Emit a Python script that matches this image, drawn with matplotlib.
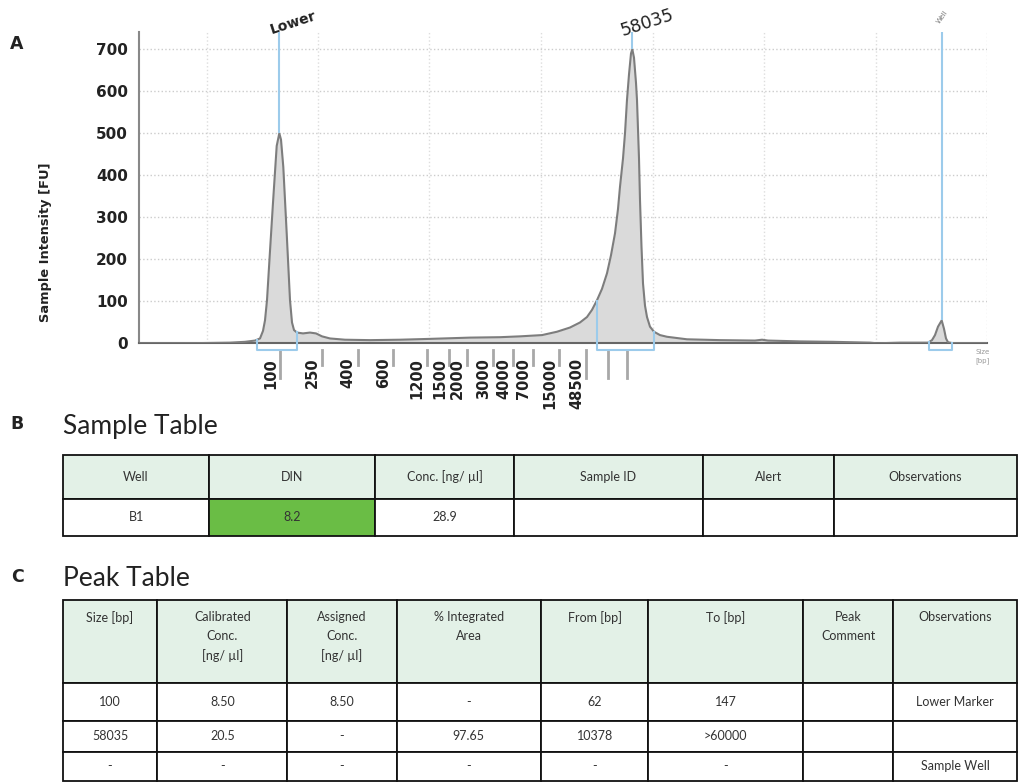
import numpy as np
import matplotlib.pyplot as plt

# electropherogram trace: migration position (px along run) and intensity [FU]
trace_pos = [139, 200, 230, 245, 255, 260, 263, 265, 267, 270, 273, 276.7, 279.3,
             281, 283.3, 286.7, 290, 292, 294, 297, 303, 310, 316, 322, 330, 345,
             370, 400, 430, 470, 500, 520, 542, 557, 570, 580, 587, 592, 597, 602,
             607, 611, 615, 618, 620, 623, 625, 627, 629, 631, 632.3, 634, 636, 637,
             639, 640, 641.5, 643, 645, 647, 650, 654, 660, 667, 687, 720, 755, 762,
             768, 800, 833, 870, 877, 900, 928, 932, 935, 938, 941.7, 944, 946, 948,
             952, 987]
trace_fu = [0.5, 1, 2, 4, 7, 12, 30, 55, 103, 220, 335, 470, 500,
            485, 420, 262, 103, 50, 32, 26, 24, 26, 24, 17, 12, 9,
            8, 9, 11, 14, 15, 17, 20, 28, 38, 50, 63, 80, 103, 130,
            167, 210, 262, 320, 373, 440, 500, 580, 640, 690, 700, 680, 620, 579,
            440, 341, 230, 143, 90, 63, 40, 28, 20, 16, 10, 8, 7, 9,
            7, 5, 4, 2, 0.5, 2, 2, 8, 20, 40, 55, 35, 12, 3,
            1, 1]

# ladder sizes and where they sit on the run
ladder_labels = ['100', '250', '400', '600', '1200', '1500', '2000', '3000',
                 '4000', '7000', '15000', '48500']
ladder_pos = [280, 321.7, 357.7, 392.7, 426.7, 449.3, 467.3, 493.3, 513.3,
              532.7, 559.3, 586]
ladder_long = [True, False, False, False, False, False, False, False, False,
               False, False, True]
extra_tick_pos = [607.7, 626.7]

# called peaks
peak_names = ['Lower', '58035', 'Well']
peak_pos = [279.3, 632.3, 941.7]
peak_fu = [500, 700, 55]
peak_from = [257.3, 596.7, 929.3]
peak_to = [296.7, 654.0, 951.7]

grid_x = [207, 318, 429, 541, 653, 764, 876, 987]
y_ticks = [0, 100, 200, 300, 400, 500, 600, 700]

# tables
sample_cols = ['Well', 'DIN', 'Conc. [ng/ µl]', 'Sample ID', 'Alert', 'Observations']
sample_row = ['B1', '8.2', '28.9', '', '', '']
sample_widths = [146.6, 165.7, 139, 189, 131, 183]

peak_cols = ['Size [bp]', 'Calibrated\nConc.\n[ng/ µl]', 'Assigned\nConc.\n[ng/ µl]',
             '% Integrated\nArea', 'From [bp]', 'To [bp]', 'Peak\nComment', 'Observations']
peak_rows = [['100', '8.50', '8.50', '-', '62', '147', '', 'Lower Marker'],
             ['58035', '20.5', '-', '97.65', '10378', '>60000', '', ''],
             ['-', '-', '-', '-', '-', '-', '', 'Sample Well']]
peak_widths = [94.6, 130, 109.4, 144.3, 107.3, 154.4, 90.6, 123.7]

W, H = 1018, 783
fig = plt.figure(figsize=(W / 100, H / 100), dpi=100)


def px_axes(x0, y0, x1, y1):
    return fig.add_axes([x0 / W, 1 - y1 / H, (x1 - x0) / W, (y1 - y0) / H])


BLUE = '#9ccbeb'

# ---- A: electropherogram ----
ax = px_axes(139, 32, 987, 343.5)
ax.set_xlim(139, 987)
ax.set_ylim(0, 741)
ax.fill_between(trace_pos, trace_fu, color='#dadada', lw=0, zorder=2)
ax.plot(trace_pos, trace_fu, color='#7d7d7d', lw=1.5, zorder=3)

ax.set_yticks(y_ticks)
ax.set_yticklabels([str(v) for v in y_ticks], fontsize=11, fontweight='bold', color='#222')
ax.tick_params(axis='y', length=0, pad=8)
ax.set_xticks([])
ax.set_xticks(grid_x, minor=True)
ax.tick_params(axis='x', which='both', length=0, labelbottom=False)
ax.yaxis.grid(True, ls=':', color='#cccccc', lw=1)
ax.xaxis.grid(True, which='minor', ls=':', color='#dddddd', lw=1)
ax.set_axisbelow(True)
for s in ['top', 'right']:
    ax.spines[s].set_visible(False)
ax.spines['left'].set_color('#888888')
ax.spines['left'].set_linewidth(1.5)
ax.spines['bottom'].set_color('#666666')
ax.spines['bottom'].set_linewidth(1.5)

# peak markers and integration brackets
ax.vlines(peak_pos, peak_fu, 741, color=BLUE, lw=1.5, zorder=4)
for f, t in zip(peak_from, peak_to):
    yl = np.interp(f, trace_pos, trace_fu)
    yr = np.interp(t, trace_pos, trace_fu)
    ax.plot([f, f, t, t], [yl, -16, -16, yr], color=BLUE, lw=1.5, clip_on=False, zorder=4)

ax.text(peak_pos[0] + 14, 762, peak_names[0], rotation=18, ha='center', va='center',
        fontsize=10, fontweight='bold', color='#222')
ax.text(peak_pos[1] + 15, 762, peak_names[1], rotation=18, ha='center', va='center',
        fontsize=12.5, color='#222')
ax.text(peak_pos[2] + 1, 778, peak_names[2], rotation=55, ha='center', va='center',
        fontsize=5, color='#777')

# ladder ticks under the axis
for x, lab, lng in zip(ladder_pos, ladder_labels, ladder_long):
    ax.plot([x, x], [-16, -82 if lng else -51], color='#a8a8a8', lw=2, clip_on=False)
    ax.text(x - 2, -34, lab, rotation=90, ha='right', va='top', fontsize=10.5,
            fontweight='bold', color='#222', clip_on=False)
for x in extra_tick_pos:
    ax.plot([x, x], [-16, -82], color='#a8a8a8', lw=2, clip_on=False)
ax.text(983, -14, 'Size\n[bp]', ha='center', va='top', fontsize=5, color='#999',
        linespacing=1.4)

fig.text(45.5 / W, 1 - 242 / H, 'Sample Intensity [FU]', rotation=90, ha='center',
         va='center', fontsize=9.4, fontweight='bold', color='#222')

# panel letters and titles
for lab, y in [('A', 44), ('B', 424), ('C', 577)]:
    fig.text(17 / W, 1 - y / H, lab, ha='center', va='center', fontsize=12.5,
             fontweight='bold', color='#222')
fig.text(63 / W, 1 - 434 / H, 'Sample Table', fontsize=19, family='Lato',
         va='baseline', color='#222')
fig.text(63 / W, 1 - 586 / H, 'Peak Table', fontsize=19, family='Lato',
         va='baseline', color='#222')

HEAD = '#e3f1e7'

# ---- B: sample table ----
tb = px_axes(62.7, 455, 1017, 535.7)
tb.axis('off')
tab = tb.table(cellText=[sample_row], colLabels=sample_cols, colWidths=sample_widths,
               cellLoc='center', bbox=[0, 0, 1, 1])
tab.auto_set_font_size(False)
tab.set_fontsize(9)
for (r, c), cell in tab.get_celld().items():
    cell.set_edgecolor('#111111')
    cell.set_linewidth(1.3)
    cell.set_height(44 if r == 0 else 36.7)
    cell.get_text().set_fontfamily('Lato')
    cell.get_text().set_color('#333')
    if r == 0:
        cell.set_facecolor(HEAD)
tab[(1, 1)].set_facecolor('#6abd45')

# ---- C: peak table ----
tc = px_axes(62.7, 600, 1017, 781)
tc.axis('off')
tab2 = tc.table(cellText=peak_rows, colLabels=[''] * len(peak_cols), colWidths=peak_widths,
                cellLoc='center', bbox=[0, 0, 1, 1])
tab2.auto_set_font_size(False)
tab2.set_fontsize(9)
row_h = [83.3, 37.7, 30.7, 29.3]
for (r, c), cell in tab2.get_celld().items():
    cell.set_edgecolor('#111111')
    cell.set_linewidth(1.3)
    cell.set_height(row_h[r])
    cell.get_text().set_fontfamily('Lato')
    cell.get_text().set_color('#333')
    if r == 0:
        cell.set_facecolor(HEAD)
edges = np.concatenate([[0], np.cumsum(peak_widths)]) / sum(peak_widths)
for i, lab in enumerate(peak_cols):
    tc.text((edges[i] + edges[i + 1]) / 2, 1 - 11 / 181, lab, ha='center', va='top',
            fontsize=9, family='Lato', color='#333', linespacing=1.65,
            transform=tc.transAxes)

fig.savefig('out.png', dpi=100)
